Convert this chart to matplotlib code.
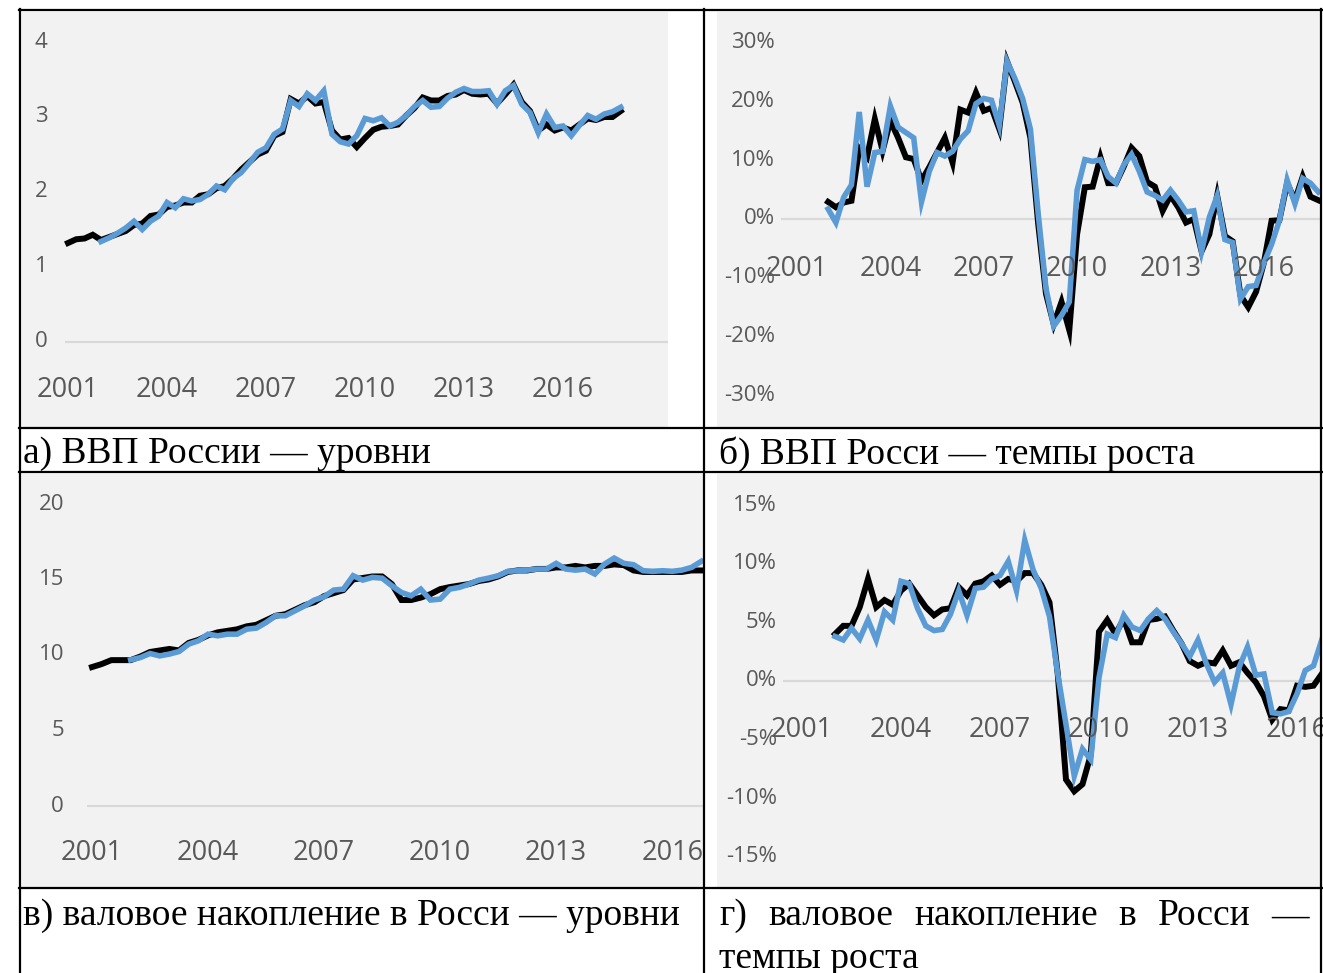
import numpy as np
import matplotlib
matplotlib.use("Agg")
import matplotlib.pyplot as plt
from matplotlib.lines import Line2D

W, H = 1323, 973

# quarterly index: 0 = 2001Q1; model series start at 2002Q1 (index 4)
year_labels = ["2001", "2004", "2007", "2010", "2013", "2016"]
year_pos = [0, 12, 24, 36, 48, 60]

# а) GDP levels
gdp_lvl_actual = [1.32, 1.37, 1.38, 1.43, 1.36, 1.40, 1.44, 1.48, 1.56, 1.58,
                  1.68, 1.70, 1.80, 1.82, 1.86, 1.86, 1.95, 1.97, 2.05, 2.08,
                  2.18, 2.30, 2.40, 2.50, 2.55, 2.75, 2.80, 3.24, 3.18, 3.28,
                  3.18, 3.20, 2.82, 2.70, 2.72, 2.60, 2.72, 2.83, 2.87, 2.88,
                  2.90, 3.02, 3.12, 3.26, 3.22, 3.22, 3.28, 3.30, 3.36, 3.31,
                  3.30, 3.31, 3.18, 3.30, 3.43, 3.20, 3.08, 2.82, 2.90, 2.82,
                  2.86, 2.82, 2.90, 2.98, 2.96, 3.00, 3.00, 3.08]
gdp_lvl_model = [1.34, 1.39, 1.45, 1.52, 1.61, 1.50, 1.61, 1.68, 1.86, 1.79,
                 1.91, 1.88, 1.90, 1.97, 2.08, 2.03, 2.18, 2.26, 2.39, 2.53,
                 2.59, 2.77, 2.84, 3.22, 3.14, 3.31, 3.22, 3.35, 2.77, 2.67,
                 2.64, 2.75, 2.98, 2.95, 2.99, 2.88, 2.93, 3.02, 3.14, 3.22,
                 3.13, 3.14, 3.25, 3.33, 3.38, 3.34, 3.34, 3.35, 3.17, 3.35,
                 3.42, 3.17, 3.06, 2.79, 3.04, 2.86, 2.88, 2.75, 2.89, 3.02,
                 2.97, 3.04, 3.07, 3.13]

# б) GDP growth, %
gdp_gr_actual = [2.9, 2.0, 2.8, 3.1, 12.0, 10.5, 17.0, 11.6, 16.7, 13.8,
                 10.5, 10.2, 6.5, 8.8, 11.3, 13.8, 9.6, 18.6, 18.1, 21.5,
                 18.4, 18.9, 15.3, 26.8, 23.4, 19.8, 13.8, -0.8, -12.7, -17.9,
                 -14.1, -18.9, -2.6, 5.4, 5.5, 10.5, 6.1, 6.1, 8.9, 12.1,
                 10.7, 6.3, 5.5, 1.4, 4.0, 2.0, -0.6, 0.0, -5.5, -2.6,
                 4.0, -2.9, -3.8, -13.0, -15.0, -12.4, -7.5, -0.3, -0.2, 6.1,
                 3.2, 7.2, 3.8, 3.2]
gdp_gr_model = [1.7, -0.6, 3.7, 5.8, 18.2, 5.5, 11.3, 11.5, 19.2, 15.6,
                14.7, 13.8, 2.9, 8.1, 11.3, 10.7, 11.5, 13.6, 15.0, 19.6,
                20.5, 20.2, 15.9, 26.8, 23.9, 20.5, 15.3, 0.9, -11.8, -18.2,
                -16.4, -14.1, 4.9, 10.1, 9.8, 10.1, 7.2, 6.1, 9.2, 11.0,
                8.1, 4.6, 4.0, 3.2, 4.9, 3.2, 1.2, 1.4, -5.5, 0.3,
                3.9, -3.5, -4.0, -13.6, -11.5, -11.3, -7.5, -4.3, -0.3, 6.6,
                2.6, 6.9, 6.1, 4.6]

# в) gross capital formation levels
inv_lvl_actual = [9.2, 9.4, 9.66, 9.66, 9.66, 9.9, 10.2, 10.3, 10.4, 10.3,
                  10.8, 11.0, 11.3, 11.5, 11.6, 11.7, 11.9, 12.0, 12.3, 12.6,
                  12.7, 13.0, 13.3, 13.5, 13.9, 14.1, 14.3, 15.0, 15.1, 15.2,
                  15.2, 14.7, 13.64, 13.64, 13.8, 14.03, 14.36, 14.5, 14.6, 14.7,
                  14.9, 15.0, 15.2, 15.5, 15.6, 15.6, 15.7, 15.7, 15.8, 15.8,
                  15.9, 15.8, 15.9, 15.9, 16.0, 15.95, 15.6, 15.5, 15.5, 15.5,
                  15.5, 15.5, 15.6, 15.6]
inv_lvl_model = [9.68, 9.83, 10.1, 9.94, 10.06, 10.23, 10.72, 10.94, 11.38, 11.27,
                 11.38, 11.38, 11.71, 11.78, 12.15, 12.6, 12.6, 12.93, 13.26, 13.64,
                 13.86, 14.3, 14.36, 15.25, 14.96, 15.14, 15.09, 14.59, 14.14, 13.92,
                 14.36, 13.64, 13.7, 14.36, 14.48, 14.7, 14.96, 15.09, 15.25, 15.54,
                 15.58, 15.62, 15.69, 15.69, 16.07, 15.69, 15.62, 15.69, 15.36, 16.02,
                 16.42, 16.07, 15.98, 15.58, 15.54, 15.58, 15.54, 15.62, 15.8, 16.2]

# г) gross capital formation growth, %
inv_gr_actual = [4.0, 4.7, 4.7, 6.3, 8.7, 6.3, 6.9, 6.5, 7.7, 8.3,
                 7.3, 6.3, 5.6, 6.1, 6.2, 8.0, 7.3, 8.3, 8.5, 9.0,
                 8.2, 8.7, 8.5, 9.2, 9.2, 8.2, 6.7, 0.6, -8.4, -9.4,
                 -8.8, -6.3, 4.2, 5.2, 4.0, 5.3, 3.3, 3.3, 5.2, 5.3,
                 5.5, 4.3, 3.2, 1.7, 1.3, 1.6, 1.5, 2.6, 1.3, 1.6,
                 0.7, -0.1, -1.3, -3.3, -2.4, -2.5, -0.4, -0.5, -0.4, 0.6]
inv_gr_model = [3.8, 3.5, 4.5, 3.6, 5.2, 3.5, 5.9, 5.2, 8.5, 8.3,
                6.2, 4.7, 4.3, 4.4, 5.7, 7.7, 5.6, 7.9, 8.0, 8.7,
                9.0, 10.2, 7.7, 12.0, 9.5, 7.9, 5.5, 0.6, -3.7, -8.1,
                -5.8, -6.7, 0.3, 4.0, 3.7, 5.6, 4.6, 4.3, 5.3, 6.0,
                5.3, 4.2, 3.2, 2.1, 3.5, 1.5, -0.1, 0.7, -2.0, 1.2,
                2.9, 0.5, 0.6, -2.7, -2.8, -2.6, -1.1, 0.9, 1.3, 3.5]

captions = ["а) ВВП России — уровни",
            "б) ВВП Росси — темпы роста",
            "в) валовое накопление в Росси — уровни",
            "г) валовое накопление в Росси —",
            "темпы роста"]

GRAY_BG = "#f2f2f2"
TICK_C = "#595959"
BLUE = "#5b9bd5"
TICK_FONT = ["Liberation Sans Narrow", "Open Sans", "DejaVu Sans"]

fig = plt.figure(figsize=(W / 100, H / 100), dpi=100)
fig.patch.set_facecolor("white")


def panel(box, x_org, x_step, y_org, y_step, actual, a_start, model, m_start,
          yticks, ylab_x, ylab_ha, xlab_y, zero_from, pct):
    x0, y0, x1, y1 = box
    ax = fig.add_axes([x0 / W, 1 - y1 / H, (x1 - x0) / W, (y1 - y0) / H])
    ax.set_facecolor(GRAY_BG)
    for s in ax.spines.values():
        s.set_visible(False)
    ax.set_xticks([])
    ax.set_yticks([])
    ax.set_xlim((x0 - x_org) / x_step, (x1 - x_org) / x_step)
    ax.set_ylim((y_org - y1) / y_step, (y_org - y0) / y_step)

    ax.hlines(0, (zero_from - x_org) / x_step, 200, color="#d9d9d9", lw=1.6, zorder=1)
    ax.plot(np.arange(a_start, a_start + len(actual)), actual, color="black",
            lw=4.3, solid_joinstyle="miter", zorder=2)
    ax.plot(np.arange(m_start, m_start + len(model)), model, color=BLUE,
            lw=4.0, solid_joinstyle="miter", zorder=3)

    yt = ax.get_yaxis_transform()
    for v in yticks:
        lab = f"{v}%" if pct else f"{v}"
        ax.text((ylab_x - x0) / (x1 - x0), v, lab, transform=yt, ha=ylab_ha,
                va="center", fontsize=16, color=TICK_C, family=TICK_FONT)
    xt = ax.get_xaxis_transform()
    for p, lab in zip(year_pos, year_labels):
        ax.text(p, (y1 - xlab_y) / (y1 - y0), lab, transform=xt, ha="center",
                va="center", fontsize=19.5, color=TICK_C, family=TICK_FONT,
                clip_on=False)
    return ax


panel((22, 12, 668, 427), 68, 8.25, 342, 75, gdp_lvl_actual, 0, gdp_lvl_model, 4,
      [0, 1, 2, 3, 4], 41, "center", 390, 65, False)
panel((717, 12, 1321, 427), 797, 7.78, 219, 5.88, gdp_gr_actual, 4, gdp_gr_model, 4,
      [-30, -20, -10, 0, 10, 20, 30], 775, "right", 269, 781, True)
panel((22, 474, 704, 887), 92, 9.67, 806, 15.1, inv_lvl_actual, 0, inv_lvl_model, 4,
      [0, 5, 10, 15, 20], 64, "right", 853, 87, False)
panel((717, 474, 1321, 887), 802, 8.25, 681, 11.73, inv_gr_actual, 4, inv_gr_model, 4,
      [-15, -10, -5, 0, 5, 10, 15], 777, "right", 730, 783, True)


def fx(px):
    return px / W


def fy(py):
    return 1 - py / H


# table grid
for y in [10, 428, 472, 888]:
    fig.add_artist(Line2D([fx(19), fx(1322)], [fy(y), fy(y)], color="black", lw=1.6))
for x in [20, 704, 1321]:
    fig.add_artist(Line2D([fx(x), fx(x)], [fy(9), fy(973)], color="black", lw=1.6))

cap_kw = dict(fontsize=27, family="Liberation Serif", color="black", va="center", ha="left")
fig.text(fx(23), fy(454), captions[0], **cap_kw)
fig.text(fx(719), fy(454), captions[1], **cap_kw)
fig.text(fx(23), fy(916), captions[2], **cap_kw)
fig.text(fx(719), fy(959), captions[4], **cap_kw)

# justified line of the last caption: spread words between the cell margins
renderer = fig.canvas.get_renderer()
words = captions[3].split()
word_txt = [fig.text(0, fy(916), w, **cap_kw) for w in words]
widths = [t.get_window_extent(renderer).width for t in word_txt]
left, right = 719, 1309
gap = (right - left - sum(widths)) / (len(words) - 1)
xpos = left
for t, w in zip(word_txt, widths):
    t.set_x(fx(xpos))
    xpos += w + gap

fig.savefig("out.png", dpi=100)
